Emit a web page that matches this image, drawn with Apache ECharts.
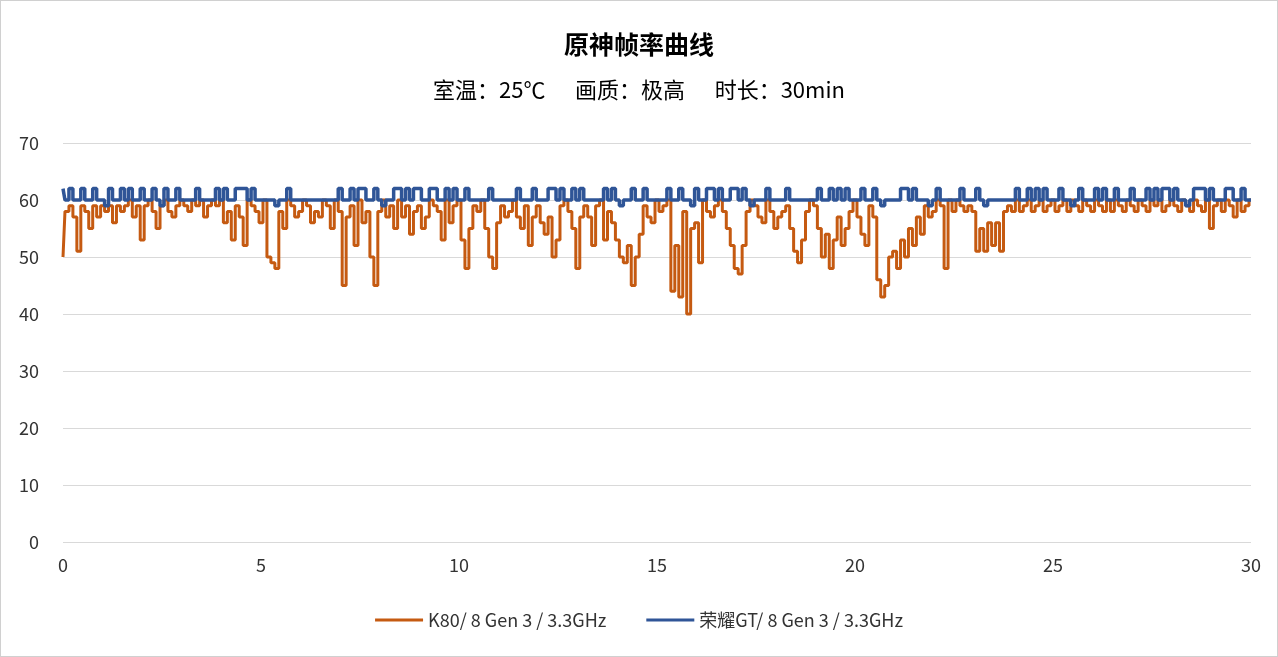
<!DOCTYPE html>
<html>
<head>
<meta charset="utf-8">
<script src="https://cdn.jsdelivr.net/npm/echarts@6/dist/echarts.min.js"></script>
<style>
html,body{margin:0;padding:0;background:#fff;}
#main{width:1276px;height:655px;border:1px solid #d0d0d0;}
</style>
</head>
<body>
<div id="main"></div>
<script>
// 时间步长 0.1 min
var step = 0.1;
var k80 = [
 50,58,59,57,51,59,58,55,59,57, 59,58,59,56,59,58,59,60,57,59,
 53,59,60,58,55,59,60,58,57,59, 60,59,58,60,59,60,57,59,60,59,
 60,56,58,53,59,57,52,60,59,58, 56,60,50,49,48,58,55,60,59,57,
 58,60,59,56,58,57,60,59,55,60, 58,45,57,59,52,60,56,58,50,45,
 58,60,57,59,55,60,57,59,54,58, 59,55,57,60,59,58,53,60,56,59,
 60,53,48,55,59,58,60,55,50,48, 56,59,57,58,60,57,55,59,52,57,
 59,56,54,57,50,53,59,60,58,55, 48,57,59,57,52,59,60,53,58,56,
 53,50,49,52,45,50,54,59,57,56, 60,58,59,60,44,52,43,58,40,55,
 56,49,60,58,57,59,60,58,55,52, 48,47,52,58,60,59,57,56,60,58,
 55,57,58,59,55,51,49,53,58,60, 59,55,50,54,48,53,57,52,55,58,
 60,57,54,52,59,57,46,43,45,50, 51,48,53,50,55,52,57,54,59,57,
 58,60,59,48,60,58,60,59,58,59, 58,51,55,51,56,52,56,51,58,59,
 58,60,58,59,60,58,59,60,58,59, 60,58,59,60,58,60,59,58,60,59,
 58,60,59,58,60,58,60,59,58,60, 59,58,60,59,58,60,59,60,58,59,
 60,59,58,60,59,58,60,59,58,60, 55,59,60,58,60,59,57,60,58,59,
 60
];
var honorGT = [
 62,60,62,60,60,62,60,60,62,60, 60,59,62,60,60,62,60,62,60,60,
 62,60,60,62,60,59,62,60,60,62, 60,60,60,60,62,60,60,60,60,62,
 60,62,60,60,62,62,62,60,62,60, 60,60,60,60,59,60,60,62,60,60,
 60,60,60,60,60,60,60,60,60,60, 62,60,60,62,60,62,62,60,60,62,
 60,59,60,60,62,62,60,62,60,62, 62,60,60,62,62,60,60,62,60,62,
 60,60,62,60,60,60,60,60,62,60, 60,60,60,60,60,62,60,60,60,62,
 60,60,60,62,62,60,62,60,60,62, 60,62,60,60,60,60,60,62,60,62,
 60,59,60,60,62,60,60,62,60,60, 60,60,60,62,60,60,62,60,60,59,
 62,60,60,62,62,60,62,60,60,62, 62,60,62,60,59,60,60,60,62,60,
 60,60,60,62,60,60,60,60,60,60, 60,62,60,60,62,60,62,60,62,60,
 60,60,62,60,60,62,60,59,60,60, 60,60,62,62,60,62,60,60,60,59,
 60,62,60,60,60,60,60,62,60,60, 60,62,60,59,60,60,60,60,60,60,
 60,62,60,60,62,60,62,60,62,60, 60,60,62,60,60,59,60,62,60,60,
 60,62,60,62,60,60,62,60,60,60, 62,60,60,60,62,60,62,60,62,62,
 60,62,60,60,59,60,62,62,62,60, 62,60,60,60,62,62,60,60,62,60,
 60
];
var names = ['K80/ 8 Gen 3 / 3.3GHz', '荣耀GT/ 8 Gen 3 / 3.3GHz'];

function toPairs(arr) {
    return arr.map(function (v, i) { return [+(i * step).toFixed(1), v]; });
}

var myChart = echarts.init(document.getElementById('main'));
var font = '"Microsoft YaHei","Noto Sans CJK SC",sans-serif';
var option = {
    animation: false,
    title: {
        text: '原神帧率曲线',
        subtext: '室温：25℃      画质：极高      时长：30min',
        left: 'center',
        top: 26,
        itemGap: 22,
        textStyle: {fontFamily: font, fontSize: 25, fontWeight: 'bold', color: '#000'},
        subtextStyle: {fontFamily: font, fontSize: 22, color: '#000'}
    },
    legend: {
        bottom: 22,
        itemWidth: 48,
        itemGap: 40,
        icon: 'rect',
        itemHeight: 3,
        textStyle: {fontFamily: font, fontSize: 18, color: '#333'},
        data: names
    },
    grid: {left: 62, right: 26, top: 142, bottom: 114},
    xAxis: {
        type: 'value', min: 0, max: 30, interval: 5,
        axisLine: {show: false}, axisTick: {show: false},
        splitLine: {show: false},
        axisLabel: {fontFamily: font, fontSize: 18, color: '#333', margin: 14}
    },
    yAxis: {
        type: 'value', min: 0, max: 70, interval: 10,
        axisLine: {show: false}, axisTick: {show: false},
        splitLine: {lineStyle: {color: '#d9d9d9'}},
        axisLabel: {fontFamily: font, fontSize: 18, color: '#333', margin: 24}
    },
    series: [
        {name: names[0], type: 'line', step: 'middle', data: toPairs(k80), showSymbol: false,
         lineStyle: {width: 3, color: '#C55A11'}, itemStyle: {color: '#C55A11'}},
        {name: names[1], type: 'line', step: 'middle', data: toPairs(honorGT), showSymbol: false,
         lineStyle: {width: 3.5, color: '#2F5597'}, itemStyle: {color: '#2F5597'}}
    ]
};
myChart.setOption(option);
</script>
</body>
</html>
